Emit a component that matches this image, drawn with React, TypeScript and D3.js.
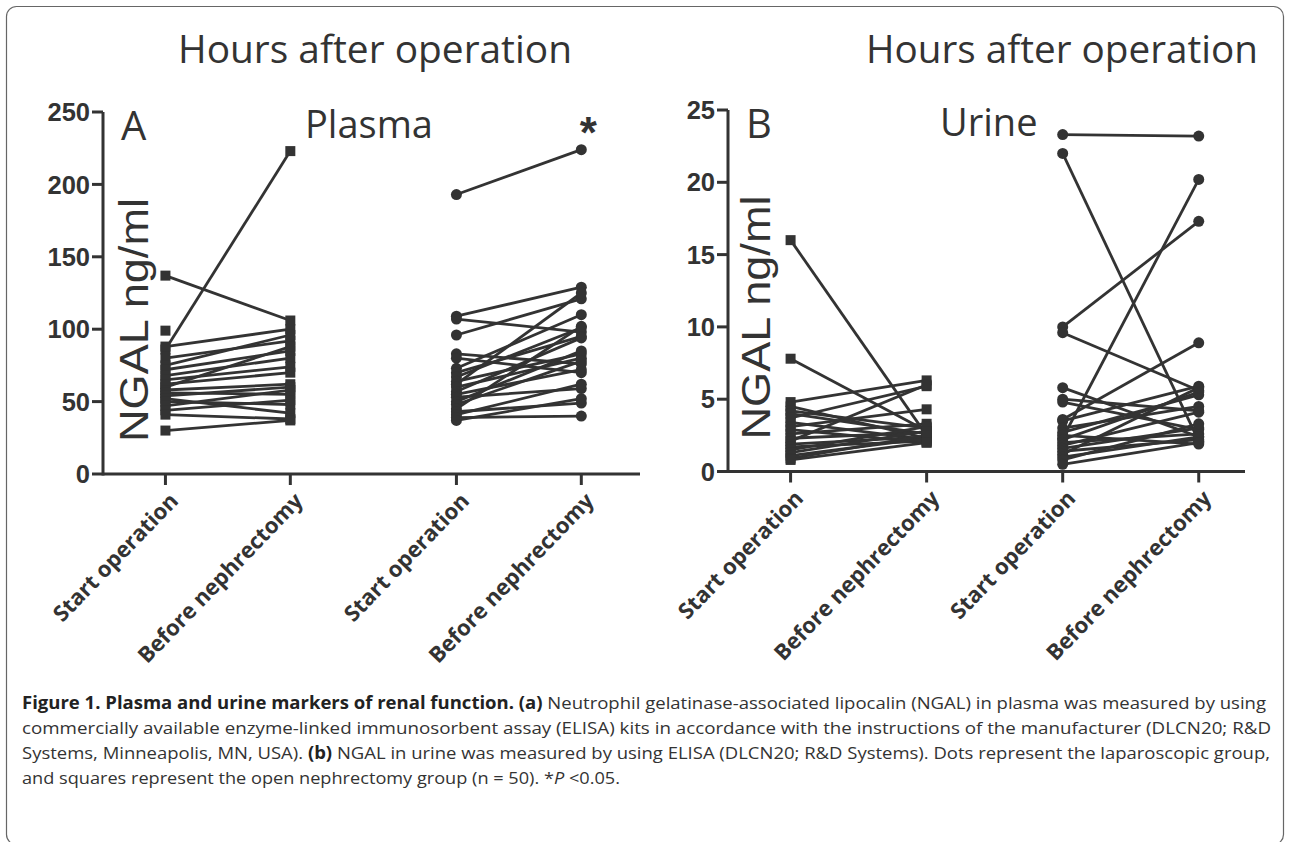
import React from 'react';
import * as d3 from 'd3';

// categories on the x axis (two time points, two groups)
const categories = ['Start operation', 'Before nephrectomy', 'Start operation', 'Before nephrectomy'];
const plasmaTicks = [0, 50, 100, 150, 200, 250];
const urineTicks = [0, 5, 10, 15, 20, 25];

// Plasma NGAL, open nephrectomy (squares)
const plasmaOpenStart = [86, 137, 99, 88, 80, 75, 72, 68, 65, 62, 60, 58, 56, 54, 52, 50, 47, 44, 41, 30];
const plasmaOpenEnd = [223, 106, null, 100, 92, 96, 85, 80, 74, 70, 88, 62, 55, 60, 42, 48, 58, 51, 38, 37];
// Plasma NGAL, laparoscopic (dots)
const plasmaLapStart = [193, 109, 107, 96, 83, 80, 73, 70, 67, 64, 62, 60, 57, 55, 53, 50, 48, 45, 43, 41, 39, 37];
const plasmaLapEnd = [224, 129, 98, 121, 76, 70, 110, 95, 101, 83, 125, 80, 94, 72, 59, 85, 78, 102, 49, 62, 40, 52];

// Urine NGAL, open nephrectomy (squares)
const urineOpenStart = [16.0, 7.8, 4.8, 4.5, 4.2, 4.0, 3.7, 3.4, 3.1, 2.9, 2.6, 2.3, 2.1, 1.9, 1.7, 1.5, 1.3, 1.1, 0.9, 0.8];
const urineOpenEnd = [2.5, 2.8, 6.3, 2.3, 3.0, 2.6, 5.9, 2.2, 4.3, 2.0, 3.3, 2.7, 6.0, 2.4, 2.1, 3.1, 2.8, 2.3, 2.5, 2.0];
// Urine NGAL, laparoscopic (dots)
const urineLapStart = [23.3, 22.0, 2.3, 10.0, 9.6, 3.6, 5.8, 5.0, 4.8, 3.5, 3.0, 2.7, 2.5, 2.2, 2.0, 1.8, 1.6, 1.4, 1.2, 1.0, 0.8, 0.5];
const urineLapEnd = [23.2, 2.1, 20.2, 17.3, 5.6, 8.9, 2.4, 4.2, 2.9, 5.9, 4.5, 5.3, 1.9, 5.5, 2.6, 4.1, 3.0, 2.2, 5.8, 2.4, 3.3, 2.0];

const INK = '#333';
const SANS = '"Liberation Sans", Arial, sans-serif';
const LIGHT = '"Open Sans", sans-serif';

type Series = { start: (number | null)[]; end: (number | null)[]; shape: 'square' | 'dot'; slot: number };

interface PanelProps {
  x0: number; x1: number; yBottom: number; yTop: number;
  yMax: number; ticks: number[];
  xDomain: [number, number]; gap: number;
  series: Series[];
  letter: string; fluid: string;
  labelX: number; fluidX: number;
  star?: boolean;
}

const Panel: React.FC<PanelProps> = (p) => {
  const y = d3.scaleLinear().domain([0, p.yMax]).range([p.yBottom, p.yTop]);
  const x = d3.scaleLinear().domain(p.xDomain).range([p.x0, p.x1]);
  const pos = (i: number) => x(i + (i >= 2 ? p.gap : 0));
  const line = d3.line<[number, number]>().x(d => d[0]).y(d => d[1]);

  const marker = (shape: string, cx: number, cy: number, key: string) =>
    shape === 'square'
      ? <rect key={key} x={cx - 5} y={cy - 5} width={10} height={10} fill={INK} />
      : <circle key={key} cx={cx} cy={cy} r={5.5} fill={INK} />;

  return (
    <g>
      {/* lines */}
      {p.series.map((s, si) =>
        s.start.map((v, i) => {
          const e = s.end[i];
          if (v == null || e == null) return null;
          return <path key={`l${si}-${i}`} d={line([[pos(s.slot), y(v)], [pos(s.slot + 1), y(e)]]) || ''}
            stroke={INK} strokeWidth={2.8} fill="none" />;
        })
      )}
      {/* markers */}
      {p.series.map((s, si) => (
        <g key={`m${si}`}>
          {s.start.map((v, i) => v == null ? null : marker(s.shape, pos(s.slot), y(v), `s${i}`))}
          {s.end.map((v, i) => v == null ? null : marker(s.shape, pos(s.slot + 1), y(v), `e${i}`))}
        </g>
      ))}
      {/* y axis */}
      <line x1={p.x0} x2={p.x0} y1={p.yBottom + 1.5} y2={p.yTop} stroke={INK} strokeWidth={3} />
      {p.ticks.map(t => (
        <g key={t}>
          <line x1={p.x0 - 11} x2={p.x0} y1={y(t)} y2={y(t)} stroke={INK} strokeWidth={3} />
          <text x={p.x0 - 13} y={y(t)} dy="0.36em" textAnchor="end" fontFamily={SANS} fontWeight="bold"
            fontSize={25.5} fill={INK}>{t}</text>
        </g>
      ))}
      {/* x axis */}
      <line x1={p.x0} x2={p.x1} y1={p.yBottom} y2={p.yBottom} stroke={INK} strokeWidth={3} />
      {categories.map((c, i) => (
        <g key={i}>
          <line x1={pos(i)} x2={pos(i)} y1={p.yBottom} y2={p.yBottom + 11} stroke={INK} strokeWidth={3} />
          <text transform={`translate(${pos(i) + 14},${p.yBottom + 28}) rotate(-46)`} textAnchor="end"
            fontFamily={LIGHT} fontWeight="bold" fontSize={22} fill={INK}>{c}</text>
        </g>
      ))}
      {/* labels */}
      <text transform={`translate(${p.labelX},${p.yBottom - 154}) rotate(-90)`} textAnchor="middle"
        textLength={244} lengthAdjust="spacingAndGlyphs"
        fontFamily={SANS} fontSize={40} fill={INK}>NGAL ng/ml</text>
      <text x={p.x0 + 18} y={p.yTop + 28} fontFamily={LIGHT} fontSize={40} fill={INK}>{p.letter}</text>
      <text x={p.fluidX} y={p.yTop + 26} fontFamily={LIGHT} fontSize={38} fill={INK}>{p.fluid}</text>
      {p.star && (
        <text x={pos(3) + 7} y={y(224) - 2} textAnchor="middle" fontFamily={SANS} fontWeight="bold"
          fontSize={44} fill={INK}>*</text>
      )}
    </g>
  );
};

const App: React.FC = () => {
  const capStyle = { fontFamily: LIGHT, fontSize: 17, fill: '#333' };
  return (
    <svg width={1290} height={842} style={{ position: 'absolute', left: 0, top: 0, background: '#fff' }}>
      <rect x={6.5} y={6.5} width={1277} height={838} rx={10} fill="none" stroke="#666" strokeWidth={1.2} />

      <text x={178} y={63} textLength={394} lengthAdjust="spacingAndGlyphs" fontFamily={LIGHT}
        fontSize={39} fill={INK}>Hours after operation</text>
      <text x={866} y={63} textLength={392} lengthAdjust="spacingAndGlyphs" fontFamily={LIGHT}
        fontSize={39} fill={INK}>Hours after operation</text>

      <Panel x0={103} x1={640} yBottom={474} yTop={112} yMax={250} ticks={plasmaTicks}
        xDomain={[-0.5, 3.8]} gap={0.33} letter="A" fluid="Plasma" labelX={148} fluidX={305} star
        series={[
          { start: plasmaOpenStart, end: plasmaOpenEnd, shape: 'square', slot: 0 },
          { start: plasmaLapStart, end: plasmaLapEnd, shape: 'dot', slot: 2 },
        ]} />
      <Panel x0={728} x1={1245} yBottom={471.5} yTop={110} yMax={25} ticks={urineTicks}
        xDomain={[-0.46, 3.34]} gap={0} letter="B" fluid="Urine" labelX={770} fluidX={940}
        series={[
          { start: urineOpenStart, end: urineOpenEnd, shape: 'square', slot: 0 },
          { start: urineLapStart, end: urineLapEnd, shape: 'dot', slot: 2 },
        ]} />

      <text x={22} y={709} textLength={1244} lengthAdjust="spacingAndGlyphs" style={capStyle}>
        <tspan fontWeight="bold" fill="#222">Figure 1. Plasma and urine markers of renal function. (a)</tspan>
        <tspan> Neutrophil gelatinase-associated lipocalin (NGAL) in plasma was measured by using</tspan>
      </text>
      <text x={22} y={734} textLength={1249} lengthAdjust="spacingAndGlyphs" style={capStyle}>
        commercially available enzyme-linked immunosorbent assay (ELISA) kits in accordance with the instructions of the manufacturer (DLCN20; R&amp;D
      </text>
      <text x={22} y={759} textLength={1248} lengthAdjust="spacingAndGlyphs" style={capStyle}>
        <tspan>Systems, Minneapolis, MN, USA). </tspan>
        <tspan fontWeight="bold" fill="#222">(b)</tspan>
        <tspan> NGAL in urine was measured by using ELISA (DLCN20; R&amp;D Systems). Dots represent the laparoscopic group,</tspan>
      </text>
      <text x={22} y={784} textLength={598} lengthAdjust="spacingAndGlyphs" style={capStyle}>
        <tspan>and squares represent the open nephrectomy group (n = 50). *</tspan>
        <tspan fontStyle="italic">P</tspan>
        <tspan> &lt;0.05.</tspan>
      </text>
    </svg>
  );
};

export default App;
